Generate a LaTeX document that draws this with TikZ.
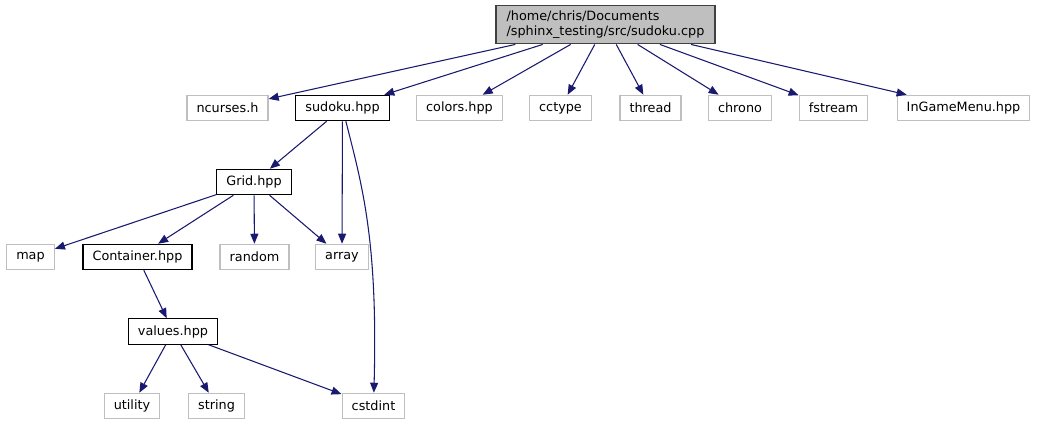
\documentclass[tikz,border=0pt]{standalone}
\usepackage{fontspec}
\setmainfont{DejaVu Sans}
\usetikzlibrary{arrows.meta}

\definecolor{edgeblue}{HTML}{191970}
\definecolor{boxgray}{HTML}{BFBFBF}
\definecolor{rootline}{HTML}{404040}

\tikzset{
  file/.style={draw=boxgray, line width=0.9pt, fill=white, inner xsep=7.2pt,
    minimum height=19pt, font=\fontsize{9.6}{11}\selectfont},
  docfile/.style={file, draw=black},
  rootfile/.style={file, draw=rootline, fill=boxgray, align=left,
    minimum height=29pt, inner xsep=8pt},
  inc/.style={draw=edgeblue, line width=0.8pt,
    -{Triangle[length=7.5pt,width=6pt]}}
}

\begin{document}
\begin{tikzpicture}[x=0.75pt, y=-0.75pt]

\useasboundingbox (0,0) rectangle (1038,425);

% Root file
\node[rootfile] (root) at (605.5,24.5)
    {/home/chris/Documents\\/sphinx\_testing/src/sudoku.cpp};

% Direct includes
\node[file]    (ncurses) at (227.5,108) {ncurses.h};
\node[docfile] (sudoku)  at (342.5,108) {sudoku.hpp};
\node[file]    (colors)  at (459.5,108) {colors.hpp};
\node[file]    (cctype)  at (560.5,108) {cctype};
\node[file]    (thread)  at (650.5,108) {thread};
\node[file]    (chrono)  at (740,108)   {chrono};
\node[file]    (fstream) at (833.5,108) {fstream};
\node[file]    (menu)    at (963.5,108) {InGameMenu.hpp};

% Second level
\node[docfile] (grid) at (254,182) {Grid.hpp};

\node[file]    (map)       at (30.5,257)  {map};
\node[docfile] (container) at (137.5,257) {Container.hpp};
\node[file]    (random)    at (254.5,257) {random};
\node[file]    (array)     at (342,257)   {array};

\node[docfile] (values) at (173,331.5) {values.hpp};

\node[file] (utility) at (132,406)   {utility};
\node[file] (string)  at (216.5,406) {string};
\node[file] (cstdint) at (373.5,406) {cstdint};

% Edges from the root
\foreach \t in {ncurses,sudoku,colors,cctype,thread,chrono,fstream,menu}
    \draw[inc] (root) -- (\t);

% sudoku.hpp
\draw[inc] (sudoku) -- (grid);
\draw[inc] (sudoku) -- (array);
\draw[inc] (sudoku) .. controls (362,185) and (378,240) .. (cstdint);

% Grid.hpp
\foreach \t in {map,container,random,array}
    \draw[inc] (grid) -- (\t);

\draw[inc] (container) -- (values);

% values.hpp
\foreach \t in {utility,string,cstdint}
    \draw[inc] (values) -- (\t);

\end{tikzpicture}
\end{document}
